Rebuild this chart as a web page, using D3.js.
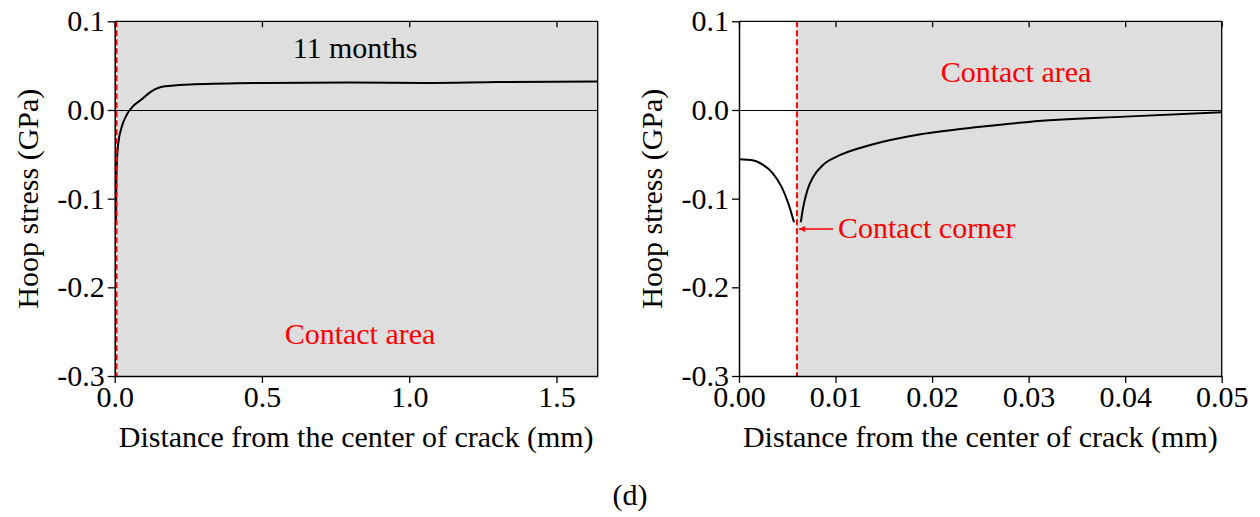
<!DOCTYPE html>
<html>
<head>
<meta charset="utf-8">
<script src="https://cdn.jsdelivr.net/npm/d3@7"></script>
<style>
  body { margin: 0; background: #fff; }
  svg text { font-family: "Liberation Serif", "Times New Roman", serif; }
</style>
</head>
<body>
<div id="vis"></div>
<script>
const WIDTH = 1260;
const HEIGHT = 517;
const FS = 30; // tamano de letra

// datos (mm, GPa)
const leftX = [0.0045, 0.005, 0.006, 0.008, 0.012, 0.024, 0.040, 0.063, 0.092, 0.122, 0.154, 0.19, 0.27, 0.5, 0.8, 1.05, 1.3, 1.64];
const leftY = [-0.126, -0.10, -0.075, -0.055, -0.038, -0.019, -0.006, 0.0045, 0.012, 0.0205, 0.0256, 0.0274, 0.029, 0.0305, 0.031, 0.0305, 0.0315, 0.0322];

const rightX1 = [0, 0.0015, 0.0025, 0.0035, 0.0044, 0.0051, 0.0057];
const rightY1 = [-0.0556, -0.057, -0.062, -0.0714, -0.0864, -0.105, -0.1266];
const rightX2 = [0.0064, 0.00666, 0.0071, 0.0077, 0.0087, 0.0105, 0.0136, 0.0188, 0.025, 0.03, 0.04, 0.05];
const rightY2 = [-0.1266, -0.109, -0.090, -0.0752, -0.062, -0.0507, -0.0395, -0.0274, -0.019, -0.0135, -0.0075, -0.0026];

const yTicks = [0.1, 0.0, -0.1, -0.2, -0.3];
const leftXTicks = [0, 0.5, 1.0, 1.5];
const rightXTicks = [0, 0.01, 0.02, 0.03, 0.04, 0.05];
const contactX = 0.006; // borde del area de contacto

const SVG = d3.select("#vis").append("svg").attr("width", WIDTH).attr("height", HEIGHT);

const yScale = d3.scaleLinear().domain([-0.3, 0.1]).range([376, 21.3]);

function panel(opts) {
  const x = d3.scaleLinear().domain(opts.domain).range(opts.range);
  const g = SVG.append("g");
  const [x0, x1] = opts.range;
  const y0 = yScale(-0.3), y1 = yScale(0.1);

  // area gris de contacto
  g.append("rect")
    .attr("x", x(contactX)).attr("y", y1)
    .attr("width", x1 - x(contactX)).attr("height", y0 - y1)
    .attr("fill", "#dedede");

  // linea del cero
  const yz = Math.round(yScale(0)) + 0.5;
  g.append("line")
    .attr("x1", x0).attr("x2", x1)
    .attr("y1", yz).attr("y2", yz)
    .attr("stroke", "#000").attr("stroke-width", 1);

  // curvas
  const line = d3.line().x(d => x(d[0])).y(d => yScale(d[1])).curve(d3.curveMonotoneX);
  opts.series.forEach(s => {
    g.append("path")
      .datum(d3.zip(s[0], s[1]))
      .attr("d", line)
      .attr("fill", "none")
      .attr("stroke", "#000")
      .attr("stroke-width", 2);
  });

  // linea roja discontinua
  g.append("line")
    .attr("x1", x(contactX)).attr("x2", x(contactX))
    .attr("y1", y1).attr("y2", y0)
    .attr("stroke", "#ff0000").attr("stroke-width", 2)
    .attr("stroke-dasharray", "6,3");

  // marco
  g.append("line").attr("x1", x0).attr("x2", x1).attr("y1", y1).attr("y2", y1).attr("stroke", "#000").attr("stroke-width", 1.3);
  g.append("line").attr("x1", x1).attr("x2", x1).attr("y1", y1).attr("y2", y0).attr("stroke", "#000").attr("stroke-width", 1.3);

  // ticks superiores hacia adentro
  g.append("g")
    .attr("transform", `translate(0,${y1})`)
    .call(d3.axisTop(x).tickValues(opts.ticks).tickSize(-6).tickFormat(""))
    .call(a => a.select(".domain").remove())
    .selectAll("line").attr("stroke-width", 1.3);

  // eje x
  const ax = g.append("g")
    .attr("transform", `translate(0,${y0})`)
    .call(d3.axisBottom(x).tickValues(opts.ticks).tickSize(7).tickSizeOuter(0).tickPadding(3).tickFormat(d3.format(opts.fmt)));
  ax.select(".domain").attr("stroke-width", 1.5);
  ax.selectAll("line").attr("stroke-width", 1.3);
  ax.selectAll("text").attr("font-size", FS).attr("fill", "#000").attr("font-family", "Liberation Serif");

  // eje y
  const ay = g.append("g")
    .attr("transform", `translate(${x0},0)`)
    .call(d3.axisLeft(yScale).tickValues(yTicks).tickSize(7).tickSizeOuter(0).tickPadding(3).tickFormat(d3.format(".1f")));
  ay.select(".domain").attr("stroke-width", 1.5);
  ay.selectAll("line").attr("stroke-width", 1.3);
  ay.selectAll("text").attr("font-size", FS).attr("fill", "#000").attr("font-family", "Liberation Serif")
    .text(d => d < 0 ? "-" + Math.abs(d).toFixed(1) : d.toFixed(1));

  // titulos
  g.append("text")
    .attr("x", (x0 + x1) / 2).attr("y", 447)
    .attr("text-anchor", "middle").attr("font-size", FS)
    .text("Distance from the center of crack (mm)");
  g.append("text")
    .attr("transform", `translate(${x0 - 77},${(y0 + y1) / 2}) rotate(-90)`)
    .attr("text-anchor", "middle").attr("font-size", FS)
    .text("Hoop stress (GPa)");

  return { g, x };
}

const left = panel({
  domain: [0, 1.64], range: [114.7, 597.7], ticks: leftXTicks, fmt: ".1f",
  series: [[leftX, leftY]]
});
left.g.append("text").attr("x", 355).attr("y", 58).attr("text-anchor", "middle")
  .attr("font-size", FS).attr("fill", "#000").text("11 months");
left.g.append("text").attr("x", 360).attr("y", 344).attr("text-anchor", "middle")
  .attr("font-size", FS).attr("fill", "#ff0000").text("Contact area");

const right = panel({
  domain: [0, 0.05], range: [739, 1221.7], ticks: rightXTicks, fmt: ".2f",
  series: [[rightX1, rightY1], [rightX2, rightY2]]
});
right.g.append("text").attr("x", 1016).attr("y", 82).attr("text-anchor", "middle")
  .attr("font-size", FS).attr("fill", "#ff0000").text("Contact area");

// flecha "Contact corner"
SVG.append("defs").append("marker")
  .attr("id", "flecha").attr("viewBox", "0 0 10 10")
  .attr("refX", 10).attr("refY", 5)
  .attr("markerWidth", 4).attr("markerHeight", 4)
  .attr("orient", "auto")
  .append("path").attr("d", "M0,0 L10,5 L0,10 z").attr("fill", "#ff0000");
right.g.append("line")
  .attr("x1", 833).attr("x2", right.x(contactX) + 2)
  .attr("y1", 229).attr("y2", 229)
  .attr("stroke", "#ff0000").attr("stroke-width", 1.5)
  .attr("marker-end", "url(#flecha)");
right.g.append("text").attr("x", 838).attr("y", 238)
  .attr("font-size", FS).attr("fill", "#ff0000").text("Contact corner");

SVG.append("text").attr("x", 630).attr("y", 505).attr("text-anchor", "middle")
  .attr("font-size", FS).text("(d)");
</script>
</body>
</html>
